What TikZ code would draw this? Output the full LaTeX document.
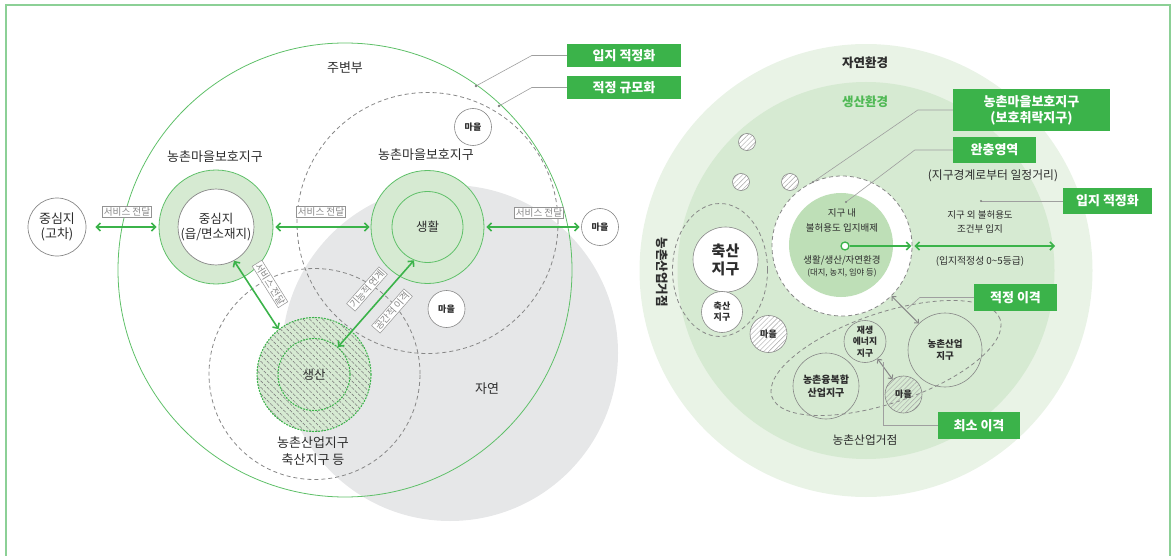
\documentclass[tikz,border=0pt]{standalone}
\usepackage{fontspec}
\setmainfont{Noto Sans CJK KR}
\usetikzlibrary{arrows.meta,patterns.meta,shapes.geometric}
\definecolor{gbox}{RGB}{59,179,74}
\definecolor{garr}{RGB}{59,179,74}
\definecolor{gline}{RGB}{95,192,105}
\definecolor{ring}{RGB}{214,234,210}
\definecolor{natgray}{RGB}{230,231,232}
\definecolor{envout}{RGB}{233,243,230}
\definecolor{envin}{RGB}{214,234,210}
\definecolor{core}{RGB}{190,223,183}
\definecolor{txt}{RGB}{45,45,45}
\definecolor{dgray}{RGB}{135,135,135}
\definecolor{framec}{RGB}{140,208,150}
\definecolor{prodgreen}{RGB}{80,185,85}
\newcommand{\fsz}[2]{\fontsize{#1}{#2}\selectfont}
\begin{document}
\begin{tikzpicture}[x=1pt,y=-1pt,
  lbl/.style={text=txt,inner sep=0pt,align=center,font=\fsz{13}{15}},
  lblb/.style={text=txt,inner sep=0pt,align=center,font=\bfseries\fsz{12.5}{15}},
  small/.style={text=txt,inner sep=0pt,align=center,font=\fsz{9.5}{15}},
  dcirc/.style={draw=dgray,dash pattern=on 4pt off 3pt,line width=0.8pt,inner sep=0pt},
  town/.style={circle,draw=dgray,line width=0.6pt,fill=white,minimum size=37pt,inner sep=0pt,text=txt,font=\bfseries\fsz{9}{11}},
  hatchw/.style={preaction={fill=white},pattern={Lines[angle=45,distance=3.5pt,line width=0.45pt]},pattern color=gray!70},
  hatchg/.style={pattern={Lines[angle=45,distance=3.5pt,line width=0.45pt]},pattern color=gray!70},
  gcirc/.style={circle,draw=dgray,line width=0.6pt,inner sep=0pt,text=txt,align=center},
  tag/.style={draw=dgray!90,fill=white,text=dgray,font=\fsz{9.6}{11},inner sep=1.3pt,line width=0.5pt},
  gtag/.style={fill=gbox,text=white,font=\bfseries\fsz{13}{16},align=center,inner sep=0pt},
  garrow/.style={draw=garr,line width=1.6pt,{Straight Barb[length=4pt,width=8pt]}-{Straight Barb[length=4pt,width=8pt]}},
  garrowone/.style={draw=garr,line width=1.6pt,-{Straight Barb[length=4pt,width=8pt]}},
  yarrow/.style={draw=dgray,line width=1pt,{Straight Barb[length=3pt,width=6pt]}-{Straight Barb[length=3pt,width=6pt]}},
  leader/.style={draw=gray!75,line width=0.6pt},
  gdot/.style={dash pattern=on 1.2pt off 1.8pt,line cap=round,draw=garr,line width=1.1pt}
]
\useasboundingbox (0,0) rectangle (1172,556);
\draw[draw=framec,line width=1.2pt] (6,5) rectangle (1170,575);

% ---------------- LEFT ----------------
\node[circle,fill=natgray,minimum size=336pt,inner sep=0pt] (nat) at (450,353) {};
\node[circle,draw=gline,line width=0.8pt,minimum size=454pt,inner sep=0pt] (peri) at (345,270) {};
\node[circle,dcirc,minimum size=261pt] (upz) at (427.5,223) {};
\node[circle,dcirc,minimum size=211pt] (lowz) at (314.5,374) {};

\node[circle,draw=dgray,line width=0.7pt,fill=white,minimum size=58pt,inner sep=0pt,lbl] (ctr) at (57,227) {중심지\\(고차)};
\node[circle,fill=ring,draw=gline,line width=0.8pt,minimum size=114pt,inner sep=0pt] (ring1) at (216,227) {};
\node[circle,fill=white,draw=dgray,line width=0.7pt,minimum size=72pt,inner sep=0pt,lbl,font=\fsz{12.5}{15}] (ring1in) at (216,227) {중심지\\(읍/면소재지)};
\node[circle,fill=ring,draw=gline,line width=0.8pt,minimum size=113pt,inner sep=0pt] (ring2) at (427.5,227) {};
\node[circle,fill=ring,draw=gline,line width=0.8pt,minimum size=71pt,inner sep=0pt,lbl,font=\fsz{12.5}{15}] (ring2in) at (427.5,227) {생활};

\node[circle,minimum size=114pt,inner sep=0pt,preaction={fill=ring},pattern={Lines[angle=-45,distance=4.6pt,line width=0.7pt]},pattern color=gray,gdot] (prod) at (314,374.5) {};
\node[circle,minimum size=72pt,inner sep=0pt,gdot,lbl,font=\fsz{12.5}{15}] (prodin) at (314,374.5) {생산};

\node[town] (t1) at (473,127) {마을};
\node[town] (t2) at (600,227) {마을};
\node[town] (t3) at (446.5,309) {마을};

\node[lbl] (lperi) at (345,68) {주변부};
\node[lbl] (lr1) at (215,157) {농촌마을보호지구};
\node[lbl] (lr2) at (426,155) {농촌마을보호지구};
\node[lbl] (lnat) at (487,389) {자연};
\node[lbl,font=\fsz{13}{17}] (lind) at (313,451.5) {농촌산업지구\\축산지구 등};

\draw[garrow,shorten <=9pt,shorten >=2pt] (ctr) -- (ring1);
\draw[garrow,shorten <=2pt,shorten >=1pt] (ring1) -- (ring2);
\draw[garrow,shorten <=2pt,shorten >=1.5pt] (ring2) -- (t2);
\node[tag] (tg1) at (127,211.5) {서비스 전달};
\node[tag] (tg2) at (321,212) {서비스 전달};
\node[tag] (tg3) at (539,212.5) {서비스 전달};

\draw[garrow] (ring1in.-62) -- (prod.128.5);
\draw[garrow] (ring2in.-112) -- (prodin.49);
\node[tag,rotate=-58] (tgA) at (270,284) {서비스 전달};
\node[tag,rotate=48.7] (tgB1) at (367,289) {기능적 연계};
\node[tag,rotate=48.7] (tgB2) at (392,311) {공간적 이격};

\node[gtag,minimum width=114pt,minimum height=23pt] (fitA) at (624,55.5) {입지 적정화};
\node[gtag,minimum width=114pt,minimum height=23pt] (sizeA) at (624,87.5) {적정 규모화};
\coordinate (lp1) at (476,86);
\coordinate (lp2) at (499,106);
\draw[leader] (fitA.west) -- ++(-35,0) -- (lp1);
\draw[leader] (sizeA.west) -- ++(-35,0) -- (lp2);
\fill[gray] (lp1) circle (1.3pt) (lp2) circle (1.3pt);

% ---------------- RIGHT ----------------
\node[circle,fill=envout,minimum size=453pt,inner sep=0pt] (natenv) at (866,270.5) {};
\node[circle,fill=envin,minimum size=377pt,inner sep=0pt] (prodenv) at (866,270.5) {};
\node[lblb] (lnatenv) at (865,63) {자연환경};
\node[lblb,text=prodgreen] (lprodenv) at (865,102) {생산환경};

\node[circle,draw=dgray,line width=0.6pt,minimum size=17pt,inner sep=0pt,hatchw] (h1) at (747,142) {};
\node[circle,draw=dgray,line width=0.6pt,minimum size=17pt,inner sep=0pt,hatchw] (h2) at (741,182) {};
\node[circle,draw=dgray,line width=0.6pt,minimum size=17pt,inner sep=0pt,hatchw] (h3) at (790,182) {};

\node[ellipse,dcirc,minimum width=95pt,minimum height=133pt] (lsz) at (720,270) {};
\node[gcirc,fill=white,minimum size=65pt,font=\bfseries\fsz{15}{18}] (bigls) at (725.5,259.5) {축산\\지구};
\node[gcirc,fill=white,minimum size=41pt,font=\bfseries\fsz{9}{11}] (smls) at (722,312) {축산\\지구};
\node[gcirc,minimum size=37pt,hatchw,font=\bfseries\fsz{9}{11}] (t4) at (768.5,334) {마을};
\node[lblb,rotate=-90] (lhub) at (662,272) {농촌산업거점};

\node[circle,fill=white,dcirc,minimum size=140pt] (buf) at (842,246) {};
\node[circle,fill=core,minimum size=104pt,inner sep=0pt] (core) at (841,245) {};
\node[small,font=\fsz{9.5}{15}] (c1) at (842,220.5) {지구 내\\불허용도 입지배제};
\node[small,font=\fsz{9.5}{13}] (c2) at (842,260) {생활/생산/자연환경};
\node[small,font=\fsz{8.3}{10}] (c3) at (842,273) {(대지, 농지, 임야 등)};
\node[circle,draw=garr,fill=white,line width=1.3pt,minimum size=8pt,inner sep=0pt] (src) at (845,246) {};
\coordinate (fitend) at (1055,246);
\draw[garrowone,shorten >=1pt] (src) -- (buf.east);
\draw[garrow,shorten <=2pt] (buf.east) -- (fitend);
\node[small,font=\fsz{9.5}{14}] (o1) at (980,222) {지구 외 불허용도\\조건부 입지};
\node[small,font=\fsz{9.8}{12}] (o2) at (980,261) {(입지적정성 0\textasciitilde 5등급)};
\node[small,font=\fsz{11.8}{14}] (o3) at (993,176) {(지구경계로부터 일정거리)};

\node[gtag,minimum width=157pt,minimum height=42pt,font=\bfseries\fsz{13}{16}] (protB) at (1031.5,110) {농촌마을보호지구\\(보호취락지구)};
\node[gtag,minimum width=83pt,minimum height=26pt] (bufB) at (994.5,150) {완충영역};
\node[gtag,minimum width=89pt,minimum height=26pt] (fitB) at (1107.5,201) {입지 적정화};
\coordinate (lp3) at (813,182);
\coordinate (lp4) at (846,202);
\coordinate (lp5) at (981,201);
\draw[leader] (protB.west) -- ++(-35,0) -- (lp3);
\draw[leader] (bufB.west) -- ++(-38,0) -- (lp4);
\draw[leader] (fitB.west) -- (lp5);
\fill[gray] (lp3) circle (1.2pt) (lp4) circle (1.2pt) (lp5) circle (1.2pt);

\node[ellipse,dcirc,minimum width=241pt,minimum height=90pt,rotate=18.7] (indhub) at (886,358) {};
\node[gcirc,minimum size=42pt,font=\bfseries\fsz{8.8}{11.5}] (renew) at (865,341.5) {재생\\에너지\\지구};
\node[gcirc,minimum size=74pt,font=\bfseries\fsz{9.5}{12.5}] (indz) at (945,350) {농촌산업\\지구};
\node[gcirc,minimum size=66pt,font=\bfseries\fsz{10}{13}] (fusion) at (826,386) {농촌융복합\\산업지구};
\node[gcirc,minimum size=37pt,hatchg,font=\bfseries\fsz{9}{11}] (t5) at (903.5,394.5) {마을};
\draw[yarrow] (buf) -- (indz);
\draw[yarrow] (renew) -- (t5);
\node[lbl,font=\fsz{11.7}{14}] (lhub2) at (865,440) {농촌산업거점};

\node[gtag,minimum width=83pt,minimum height=27pt] (distA) at (1015.5,297.5) {적정 이격};
\node[gtag,minimum width=82pt,minimum height=27pt] (distB) at (979,425.5) {최소 이격};
\coordinate (lp6) at (907,309);
\coordinate (lp7) at (883,362);
\draw[leader] (distA.west) -- ++(-54,0) -- (lp6);
\draw[leader] (distB.west) -| (lp7);
\end{tikzpicture}
\end{document}
